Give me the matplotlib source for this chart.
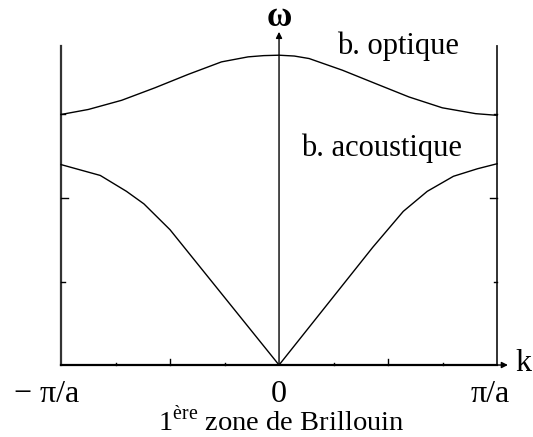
import matplotlib
matplotlib.use("Agg")
import matplotlib.pyplot as plt

plt.rcParams['font.family'] = ['Liberation Serif', 'DejaVu Serif']
plt.rcParams['mathtext.fontset'] = 'custom'
plt.rcParams['mathtext.rm'] = 'Liberation Serif'

# k in units of pi/a, omega in arbitrary units
acoustic_k = [-1.0, -0.82, -0.70, -0.62, -0.50, 0.0, 0.43, 0.57, 0.68, 0.80, 0.91, 1.0]
acoustic_w = [2.40, 2.27, 2.08, 1.93, 1.62, 0.0, 1.41, 1.84, 2.08, 2.26, 2.35, 2.41]

optical_k = [-1.0, -0.875, -0.722, -0.569, -0.417, -0.264, -0.142, -0.07, 0.0,
             0.07, 0.138, 0.291, 0.443, 0.596, 0.749, 0.902, 1.0]
optical_w = [3.00, 3.06, 3.17, 3.32, 3.48, 3.63, 3.69, 3.705, 3.71,
             3.70, 3.67, 3.53, 3.37, 3.21, 3.08, 3.01, 2.99]

k_ticks = [-0.75, -0.5, -0.25, 0.25, 0.5, 0.75]
w_ticks = [1, 2, 3]
k_labels = ["\u2212 \u03c0/a", "0", "\u03c0/a"]
k_label_pos = [-1.064, 0.0, 0.968]

fig = plt.figure(figsize=(5.33, 4.37), dpi=100)
ax = fig.add_axes([0, 0, 1, 1])
ax.set_xlim(-1.280, 1.165)
ax.set_ylim(-0.862, 4.371)
ax.axis("off")

# zone boundaries
ax.plot([-1, -1], [0, 3.82], color="#333333", lw=1.6)
ax.plot([1, 1], [0, 3.82], color="#222222", lw=1.3)

# axes with arrows
ax.plot([-1, 1.0], [0, 0], color="black", lw=1.6)
ax.annotate("", xy=(1.05, 0), xytext=(0.98, 0),
            arrowprops=dict(arrowstyle="-|>", color="black", lw=1.0,
                            mutation_scale=9, shrinkA=0, shrinkB=0))
ax.annotate("", xy=(0, 3.99), xytext=(0, 0),
            arrowprops=dict(arrowstyle="-|>", color="black", lw=1.0,
                            mutation_scale=9, shrinkA=0, shrinkB=0))

# ticks on the k axis
for t in k_ticks:
    h = 0.072 if abs(t) == 0.5 else 0.03
    ax.plot([t, t], [0, h], color="black", lw=1.0)

# ticks on the zone boundaries
for w in w_ticks:
    d = 0.032 if w == 2 else 0.016
    ax.plot([-1, -1 + d], [w, w], color="black", lw=1.0)
    ax.plot([1, 1 - d], [w, w], color="black", lw=1.0)

# dispersion branches
ax.plot(acoustic_k, acoustic_w, color="black", lw=1.0)
ax.plot(optical_k, optical_w, color="black", lw=1.0)

ax.text(0.0, 4.16, "\u03c9", ha="center", va="center", fontsize=25,
        fontweight="bold")
ax.text(1.119, -0.07, "k", ha="center", va="baseline", fontsize=23)
ax.text(0.546, 3.72, "b. optique", ha="center", va="baseline", fontsize=22)
ax.text(0.468, 2.50, "b. acoustique", ha="center", va="baseline", fontsize=22)

for lab, pos in zip(k_labels, k_label_pos):
    ax.text(pos, -0.44, lab, ha="center", va="baseline", fontsize=23)

ax.text(0.01, -0.78, r"1$^{\mathrm{ère}}$ zone de Brillouin",
        ha="center", va="baseline", fontsize=20.5)

fig.savefig("out.png", dpi=100)
